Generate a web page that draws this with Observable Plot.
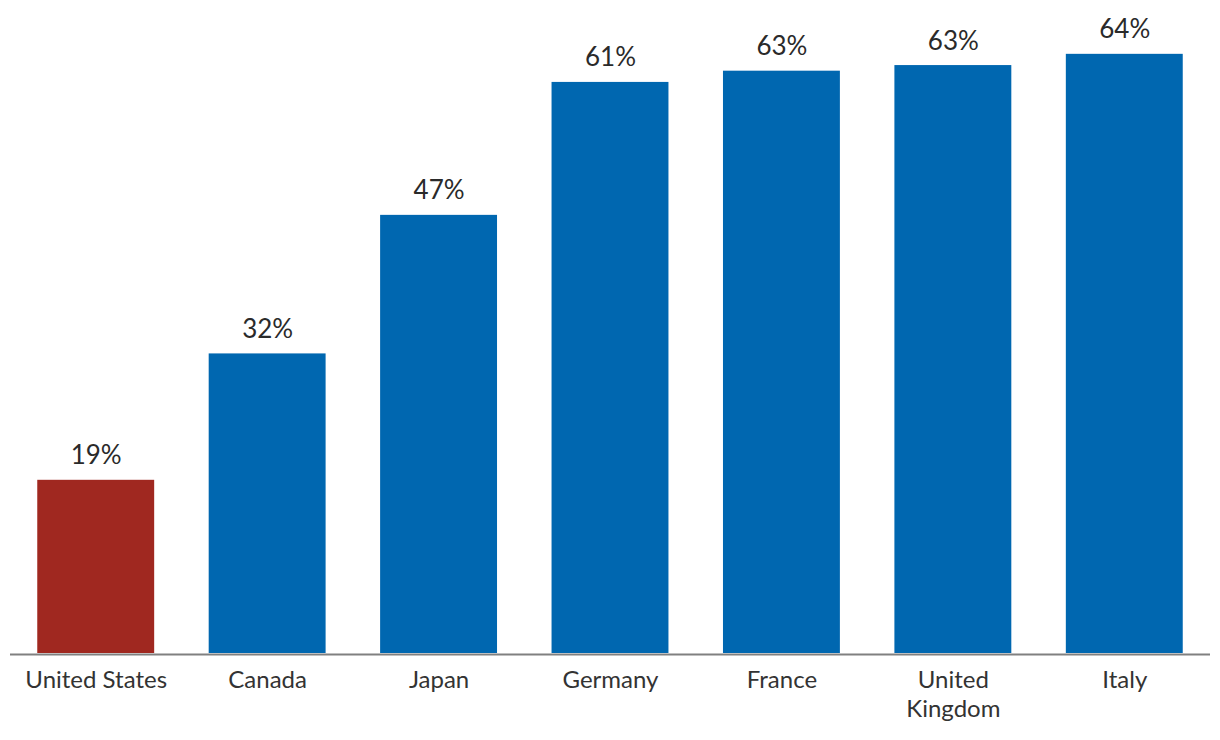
<!DOCTYPE html>
<html>
<head>
<meta charset="utf-8">
<script src="https://cdn.jsdelivr.net/npm/d3@7"></script>
<script src="https://cdn.jsdelivr.net/npm/@observablehq/plot@0.6"></script>
<style>
  html, body { margin: 0; padding: 0; background: #fff; }
  #chart svg { display: block; font-family: Lato, "Open Sans", sans-serif; }
</style>
</head>
<body>
<div id="chart"></div>
<script>
const countries = ["United States", "Canada", "Japan", "Germany", "France", "United Kingdom", "Italy"];
const values = [18.5, 32.0, 46.8, 61.0, 62.2, 62.8, 64.0];
const valueLabels = ["19%", "32%", "47%", "61%", "63%", "63%", "64%"];
const tickLabels = ["United States", "Canada", "Japan", "Germany", "France", "United\nKingdom", "Italy"];
const highlight = "United States";

const data = countries.map((c, i) => ({country: c, value: values[i], label: valueLabels[i]}));
const tickMap = new Map(countries.map((c, i) => [c, tickLabels[i]]));

const chart = Plot.plot({
  width: 1220,
  height: 740,
  marginTop: 0,
  marginBottom: 87,
  marginLeft: 10,
  marginRight: 10,
  style: {fontFamily: "Lato, 'Open Sans', sans-serif", background: "#fff"},
  x: {domain: countries, paddingInner: 0.318, paddingOuter: 0.159, round: false, label: null},
  y: {domain: [0, 69.75], axis: null},
  marks: [
    Plot.barY(data, {
      x: "country",
      y: "value",
      fill: d => d.country === highlight ? "#A02820" : "#0067B0"
    }),
    Plot.ruleY([0], {stroke: "#808080", strokeWidth: 2, dy: 1}),
    Plot.text(data, {
      x: "country",
      y: "value",
      text: "label",
      lineAnchor: "bottom",
      dy: -16,
      fontSize: 26,
      fill: "#2a2a2a"
    }),
    Plot.axisX({
      tickSize: 0,
      tickPadding: 14,
      fontSize: 24,
      lineHeight: 1.2,
      color: "#333",
      tickFormat: d => tickMap.get(d),
      label: null
    })
  ]
});
document.getElementById("chart").appendChild(chart);
</script>
</body>
</html>
